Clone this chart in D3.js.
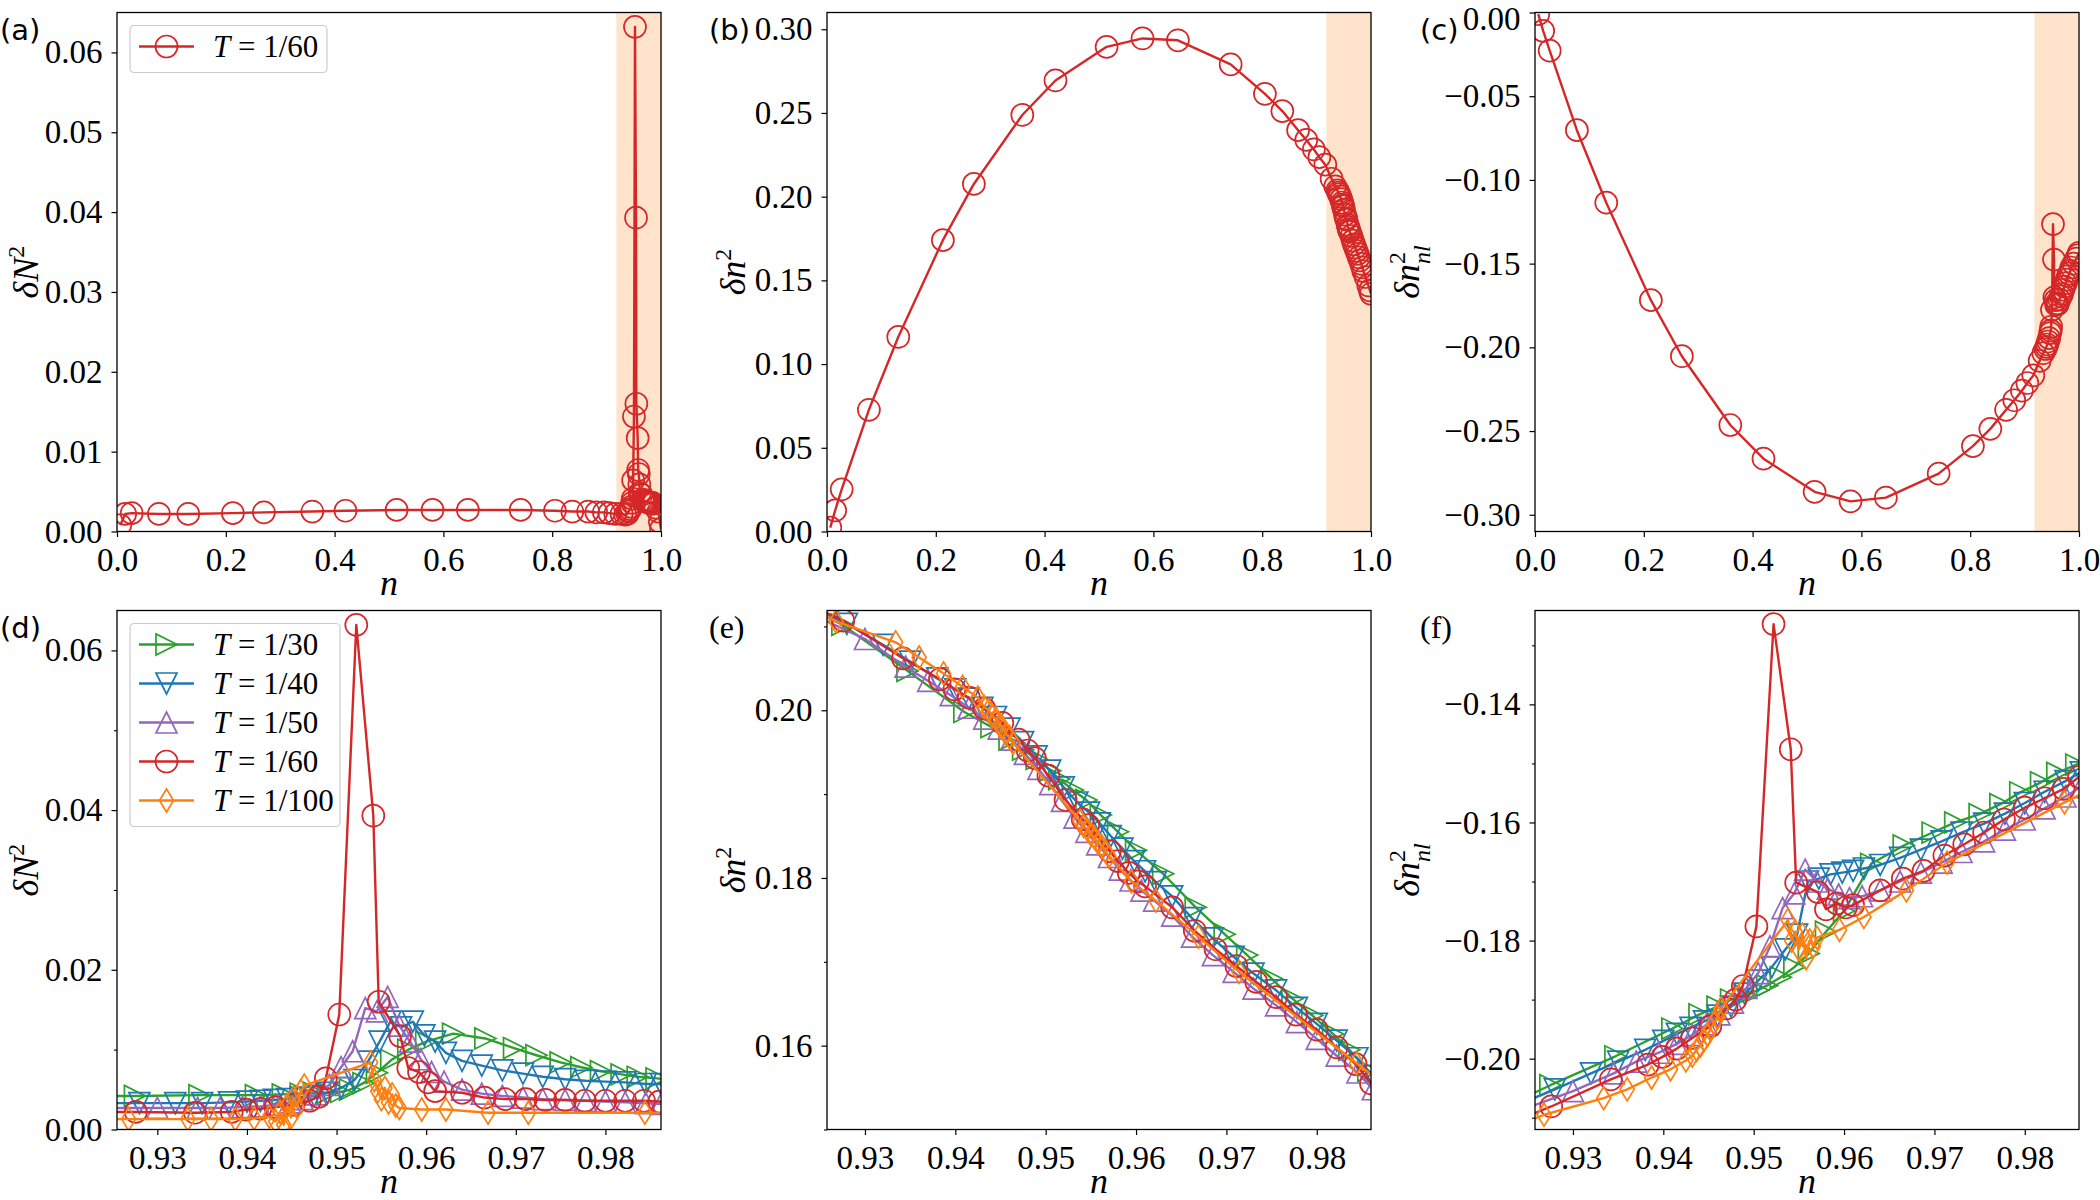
<!DOCTYPE html>
<html>
<head>
<meta charset="utf-8">
<script src="https://cdn.jsdelivr.net/npm/d3@7"></script>
<style>
  body { margin: 0; background: #fff; }
</style>
</head>
<body>
<script>
// ---------- T = 1/60 over the whole filling range (top row), n < 0.92 ----------
const nWide   = [0.006, 0.015, 0.027, 0.077, 0.131, 0.213, 0.270, 0.359, 0.420, 0.514, 0.580, 0.645, 0.742, 0.805, 0.837, 0.866, 0.881, 0.895, 0.905, 0.916];
const dN2Wide = [0.0008, 0.0022, 0.0023, 0.0022, 0.0022, 0.0023, 0.0024, 0.0025, 0.0026, 0.0027, 0.0027, 0.0027, 0.0027, 0.0026, 0.0025, 0.0025, 0.0024, 0.0024, 0.0023, 0.0022];
const dn2Wide = [0.0023, 0.0126, 0.0252, 0.0727, 0.1162, 0.1740, 0.2076, 0.2488, 0.2694, 0.2895, 0.2945, 0.2934, 0.2790, 0.2614, 0.2511, 0.2397, 0.2339, 0.2282, 0.2236, 0.2191];
const dnlWide = [-0.0010, -0.0110, -0.0228, -0.0703, -0.1136, -0.1718, -0.2053, -0.2464, -0.2665, -0.2863, -0.2920, -0.2898, -0.2754, -0.2590, -0.2487, -0.2373, -0.2316, -0.2259, -0.2213, -0.2168];
// points past the zoomed window, up to half filling
const nTail   = [0.990, 0.995, 0.998, 1.000];
const dN2Tail = [0.0030, 0.0025, 0.0012, 0.0003];
const dn2Tail = [0.152, 0.147, 0.144, 0.142];
const dnlTail = [-0.150, -0.147, -0.145, -0.1435];

// ---------- zoomed window (bottom row) ----------
// T = 1/30
const n30    = [0.9220, 0.9275, 0.9347, 0.9410, 0.9440, 0.9460, 0.9475, 0.9490, 0.9505, 0.9515, 0.9530, 0.9545, 0.9561, 0.9580, 0.9600, 0.9630, 0.9666, 0.9698, 0.9723, 0.9750, 0.9773, 0.9795, 0.9818, 0.9836, 0.9857, 0.9890];
const dN2_30 = [0.0042, 0.0042, 0.0043, 0.0043, 0.0044, 0.0045, 0.0046, 0.0046, 0.0047, 0.0050, 0.0058, 0.0071, 0.0087, 0.0100, 0.0110, 0.0120, 0.0114, 0.0102, 0.0093, 0.0084, 0.0078, 0.0073, 0.0069, 0.0066, 0.0064, 0.0061];
const dn2_30 = [0.2130, 0.2102, 0.2047, 0.1998, 0.1980, 0.1965, 0.1953, 0.1942, 0.1928, 0.1918, 0.1905, 0.1893, 0.1875, 0.1855, 0.1833, 0.1805, 0.1765, 0.1733, 0.1708, 0.1680, 0.1656, 0.1636, 0.1614, 0.1595, 0.1570, 0.1538];
const dnl_30 = [-0.2085, -0.2045, -0.1996, -0.1949, -0.1925, -0.1912, -0.1900, -0.1892, -0.1884, -0.1876, -0.1862, -0.1845, -0.1822, -0.1785, -0.1750, -0.1670, -0.1639, -0.1617, -0.1600, -0.1586, -0.1569, -0.1549, -0.1532, -0.1516, -0.1502, -0.1478];
// T = 1/40
const n40    = [0.9220, 0.9280, 0.9320, 0.9350, 0.9380, 0.9400, 0.9415, 0.9430, 0.9445, 0.9460, 0.9475, 0.9490, 0.9505, 0.9520, 0.9535, 0.9548, 0.9560, 0.9572, 0.9585, 0.9598, 0.9610, 0.9622, 0.9640, 0.9662, 0.9685, 0.9708, 0.9730, 0.9755, 0.9778, 0.9800, 0.9822, 0.9845, 0.9862, 0.9890];
const dN2_40 = [0.0033, 0.0033, 0.0033, 0.0033, 0.0034, 0.0035, 0.0036, 0.0037, 0.0038, 0.0040, 0.0042, 0.0046, 0.0052, 0.0062, 0.0085, 0.0110, 0.0135, 0.0128, 0.0135, 0.0118, 0.0110, 0.0096, 0.0086, 0.0080, 0.0074, 0.0070, 0.0066, 0.0063, 0.0061, 0.0060, 0.0059, 0.0057, 0.0057, 0.0056];
const dn2_40 = [0.2133, 0.2103, 0.2078, 0.2058, 0.2038, 0.2025, 0.2014, 0.2003, 0.1992, 0.1978, 0.1962, 0.1945, 0.1928, 0.1908, 0.1890, 0.1878, 0.1865, 0.1850, 0.1835, 0.1820, 0.1808, 0.1795, 0.1778, 0.1752, 0.1728, 0.1706, 0.1686, 0.1666, 0.1645, 0.1626, 0.1606, 0.1585, 0.1564, 0.1532];
const dnl_40 = [-0.2090, -0.2052, -0.2025, -0.2005, -0.1985, -0.1970, -0.1958, -0.1948, -0.1937, -0.1927, -0.1912, -0.1890, -0.1868, -0.1845, -0.1815, -0.1790, -0.1700, -0.1695, -0.1688, -0.1685, -0.1682, -0.1678, -0.1672, -0.1660, -0.1646, -0.1632, -0.1617, -0.1602, -0.1585, -0.1567, -0.1548, -0.1530, -0.1515, -0.1490];
// T = 1/50
const n50    = [0.9220, 0.9300, 0.9345, 0.9370, 0.9395, 0.9415, 0.9432, 0.9448, 0.9462, 0.9477, 0.9492, 0.9505, 0.9518, 0.9532, 0.9545, 0.9557, 0.9570, 0.9582, 0.9594, 0.9606, 0.9620, 0.9640, 0.9662, 0.9685, 0.9708, 0.9730, 0.9755, 0.9778, 0.9800, 0.9822, 0.9845, 0.9862, 0.9890];
const dN2_50 = [0.0027, 0.0027, 0.0027, 0.0027, 0.0028, 0.0029, 0.0031, 0.0034, 0.0038, 0.0044, 0.0056, 0.0078, 0.0098, 0.0152, 0.0148, 0.0166, 0.0130, 0.0110, 0.0088, 0.0072, 0.0060, 0.0050, 0.0045, 0.0042, 0.0040, 0.0038, 0.0037, 0.0036, 0.0035, 0.0034, 0.0033, 0.0032, 0.0031];
const dn2_50 = [0.2125, 0.2085, 0.2052, 0.2035, 0.2018, 0.2003, 0.1990, 0.1978, 0.1965, 0.1948, 0.1930, 0.1912, 0.1892, 0.1872, 0.1855, 0.1840, 0.1825, 0.1810, 0.1797, 0.1785, 0.1773, 0.1755, 0.1730, 0.1708, 0.1688, 0.1668, 0.1648, 0.1628, 0.1608, 0.1588, 0.1568, 0.1548, 0.1518];
const dnl_50 = [-0.2100, -0.2055, -0.2025, -0.2005, -0.1990, -0.1975, -0.1960, -0.1942, -0.1925, -0.1905, -0.1880, -0.1855, -0.1810, -0.1745, -0.1720, -0.1680, -0.1700, -0.1712, -0.1722, -0.1728, -0.1725, -0.1715, -0.1700, -0.1685, -0.1668, -0.1650, -0.1632, -0.1612, -0.1595, -0.1576, -0.1556, -0.1540, -0.1515];
// T = 1/60
const n60    = [0.9220, 0.9276, 0.9342, 0.9383, 0.9399, 0.9415, 0.9432, 0.9452, 0.9470, 0.9480, 0.9488, 0.9503, 0.9522, 0.9541, 0.9547, 0.9571, 0.9580, 0.9592, 0.9602, 0.9610, 0.9640, 0.9665, 0.9688, 0.9711, 0.9733, 0.9755, 0.9777, 0.9800, 0.9822, 0.9843, 0.9860, 0.9890];
const dN2_60 = [0.0022, 0.0022, 0.0021, 0.0022, 0.0025, 0.0026, 0.0028, 0.0031, 0.0036, 0.0041, 0.0064, 0.0144, 0.0632, 0.0393, 0.0160, 0.0117, 0.0077, 0.0072, 0.0059, 0.0048, 0.0046, 0.0040, 0.0038, 0.0038, 0.0037, 0.0037, 0.0036, 0.0036, 0.0036, 0.0036, 0.0035, 0.0035];
const dn2_60 = [0.2135, 0.2107, 0.2062, 0.2037, 0.2025, 0.2015, 0.2002, 0.1985, 0.1965, 0.1952, 0.1943, 0.1922, 0.1893, 0.1870, 0.1863, 0.1832, 0.1820, 0.1806, 0.1796, 0.1790, 0.1765, 0.1737, 0.1715, 0.1695, 0.1676, 0.1658, 0.1637, 0.1619, 0.1598, 0.1578, 0.1555, 0.1525];
const dnl_60 = [-0.2115, -0.2081, -0.2035, -0.2010, -0.1997, -0.1983, -0.1965, -0.1945, -0.1915, -0.1900, -0.1877, -0.1776, -0.1264, -0.1476, -0.1702, -0.1718, -0.1747, -0.1737, -0.1744, -0.1740, -0.1715, -0.1695, -0.1682, -0.1656, -0.1637, -0.1617, -0.1595, -0.1575, -0.1559, -0.1543, -0.1523, -0.1500];
// T = 1/100
const n100    = [0.9220, 0.9268, 0.9334, 0.9360, 0.9387, 0.9408, 0.9425, 0.9432, 0.9437, 0.9441, 0.9445, 0.9449, 0.9452, 0.9456, 0.9460, 0.9464, 0.9538, 0.9542, 0.9546, 0.9550, 0.9554, 0.9558, 0.9562, 0.9566, 0.9570, 0.9595, 0.9622, 0.9669, 0.9714, 0.9844, 0.9890];
const dN2_100 = [0.0013, 0.0013, 0.0013, 0.0013, 0.0013, 0.0014, 0.0016, 0.0010, 0.0022, 0.0006, 0.0030, 0.0015, 0.0040, 0.0028, 0.0048, 0.0055, 0.0084, 0.0062, 0.0048, 0.0038, 0.0052, 0.0034, 0.0044, 0.0030, 0.0027, 0.0025, 0.0025, 0.0021, 0.0021, 0.0021, 0.0020];
const dn2_100 = [0.2135, 0.2106, 0.2081, 0.2063, 0.2044, 0.2028, 0.2015, 0.2004, 0.2000, 0.1993, 0.1990, 0.1982, 0.1980, 0.1972, 0.1968, 0.1961, 0.1868, 0.1862, 0.1858, 0.1852, 0.1848, 0.1842, 0.1838, 0.1832, 0.1826, 0.1796, 0.1773, 0.1730, 0.1688, 0.1579, 0.1540];
const dnl_100 = [-0.2125, -0.2095, -0.2067, -0.2052, -0.2032, -0.2018, -0.2003, -0.1995, -0.1985, -0.1978, -0.1968, -0.1960, -0.1950, -0.1940, -0.1930, -0.1915, -0.1765, -0.1800, -0.1785, -0.1815, -0.1790, -0.1830, -0.1800, -0.1810, -0.1795, -0.1782, -0.1760, -0.1715, -0.1668, -0.1566, -0.1530];

// ---------- ticks ----------
const xTicksWide = [0, 0.2, 0.4, 0.6, 0.8, 1.0];
const xTicksZoom = [0.93, 0.94, 0.95, 0.96, 0.97, 0.98];
const yTicksA = [0, 0.01, 0.02, 0.03, 0.04, 0.05, 0.06];
const yTicksB = [0, 0.05, 0.10, 0.15, 0.20, 0.25, 0.30];
const yTicksC = [0, -0.05, -0.10, -0.15, -0.20, -0.25, -0.30];
const yTicksD = [0, 0.02, 0.04, 0.06];
const yMinorD = [0.01, 0.03, 0.05];
const yTicksE = [0.16, 0.18, 0.20];
const yMinorE = [0.15, 0.17, 0.19, 0.21];
const yTicksF = [-0.20, -0.18, -0.16, -0.14];
const yMinorF = [-0.21, -0.19, -0.17, -0.15, -0.13];

// ---------- series tables ----------
const inner = arr => arr.slice(1, -1); // drop the helper points outside the zoom window
const top60 = {
  label: '1/60', color: '#d62728', shape: 'circle',
  n: nWide.concat(inner(n60), nTail),
  v: [dN2Wide.concat(inner(dN2_60), dN2Tail), dn2Wide.concat(inner(dn2_60), dn2Tail), dnlWide.concat(inner(dnl_60), dnlTail)]
};
const zoomSeries = [
  { label: '1/30', color: '#2ca02c', shape: 'right', n: n30, v: [dN2_30, dn2_30, dnl_30] },
  { label: '1/40', color: '#1f77b4', shape: 'down', n: n40, v: [dN2_40, dn2_40, dnl_40] },
  { label: '1/50', color: '#9467bd', shape: 'up', n: n50, v: [dN2_50, dn2_50, dnl_50] },
  { label: '1/60', color: '#d62728', shape: 'circle', n: n60, v: [dN2_60, dn2_60, dnl_60] },
  { label: '1/100', color: '#ff7f0e', shape: 'diamond', n: n100, v: [dN2_100, dn2_100, dnl_100] }
];

const sans = "'DejaVu Sans', sans-serif";
const serif = "'Liberation Serif', serif";

const panels = [
  { col: 0, row: 0, tag: '(a)', tagFont: sans, idx: 0, xd: [0, 1], yd: [0, 0.065], xt: xTicksWide, xf: '.1f', yt: yTicksA, ym: [], yf: '.2f', shade: true, series: [top60], legend: true },
  { col: 1, row: 0, tag: '(b)', tagFont: sans, idx: 1, xd: [0, 1], yd: [0, 0.31], xt: xTicksWide, xf: '.1f', yt: yTicksB, ym: [], yf: '.2f', shade: true, series: [top60] },
  { col: 2, row: 0, tag: '(c)', tagFont: sans, idx: 2, xd: [0, 1], yd: [-0.31, 0], xt: xTicksWide, xf: '.1f', yt: yTicksC, ym: [], yf: '.2f', shade: true, series: [top60] },
  { col: 0, row: 1, tag: '(d)', tagFont: sans, idx: 0, xd: [0.9255, 0.9862], yd: [0, 0.065], xt: xTicksZoom, xf: '.2f', yt: yTicksD, ym: yMinorD, yf: '.2f', series: zoomSeries, legend: true },
  { col: 1, row: 1, tag: '(e)', tagFont: serif, idx: 1, xd: [0.9258, 0.9860], yd: [0.15, 0.2119], xt: xTicksZoom, xf: '.2f', yt: yTicksE, ym: yMinorE, yf: '.2f', series: zoomSeries },
  { col: 2, row: 1, tag: '(f)', tagFont: serif, idx: 2, xd: [0.9258, 0.9860], yd: [-0.212, -0.1241], xt: xTicksZoom, xf: '.2f', yt: yTicksF, ym: yMinorF, yf: '.2f', series: zoomSeries }
];

// ---------- layout ----------
const W = 2100, H = 1200;
const colX = [117, 827, 1535];
const rowY = [12.5, 610.5];
const pw = 544, ph = 519;
const labelX = [38, 745, 1419]; // baseline of the rotated y labels

const svg = d3.select('body').append('svg')
  .attr('width', W).attr('height', H).style('display', 'block');
const defs = svg.append('defs');

function markerD(shape) {
  switch (shape) {
    case 'circle': return 'M11,0A11,11 0 1,1 -11,0A11,11 0 1,1 11,0Z';
    case 'up': return 'M0,-10.5L10.5,10.5L-10.5,10.5Z';
    case 'down': return 'M0,10.5L10.5,-10.5L-10.5,-10.5Z';
    case 'right': return 'M10.5,0L-10.5,10.5L-10.5,-10.5Z';
    default: return 'M0,-11.5L7,0L0,11.5L-7,0Z'; // thin diamond
  }
}

function yLabel(g, kind, bx, cy) {
  const t = g.append('text')
    .attr('transform', `translate(${bx},${cy}) rotate(-90)`)
    .attr('text-anchor', 'middle')
    .style('font-family', serif).style('font-size', '36px');
  t.append('tspan').style('font-style', 'italic').text(kind === 'N' ? 'δN' : 'δn');
  t.append('tspan').style('font-size', '24px').attr('dy', -14).text('2');
  if (kind === 'nl') {
    t.append('tspan').style('font-size', '24px').style('font-style', 'italic')
      .attr('dx', -12).attr('dy', 25).text('nl');
  }
}

panels.forEach((p, i) => {
  const ox = colX[p.col], oy = rowY[p.row];
  const g = svg.append('g').attr('transform', `translate(${ox},${oy})`);
  const x = d3.scaleLinear().domain(p.xd).range([0, pw]);
  const y = d3.scaleLinear().domain(p.yd).range([ph, 0]);

  defs.append('clipPath').attr('id', 'clip' + i)
    .append('rect').attr('width', pw).attr('height', ph);

  // shaded window that is magnified in the bottom row
  if (p.shade) {
    g.append('rect')
      .attr('x', x(0.918)).attr('y', 0)
      .attr('width', x(1) - x(0.918)).attr('height', ph)
      .attr('fill', '#ffe3cb');
  }

  const plot = g.append('g').attr('clip-path', `url(#clip${i})`);
  const line = d3.line().x(d => x(d[0])).y(d => y(d[1]));
  p.series.forEach(s => {
    const pts = s.n.map((n, k) => [n, s.v[p.idx][k]]);
    plot.append('path').datum(pts)
      .attr('d', line)
      .attr('fill', 'none').attr('stroke', s.color)
      .attr('stroke-width', 2.4).attr('stroke-linejoin', 'round');
    plot.selectAll(null).data(pts).join('path')
      .attr('transform', d => `translate(${x(d[0])},${y(d[1])})`)
      .attr('d', markerD(s.shape))
      .attr('fill', 'none').attr('stroke', s.color).attr('stroke-width', 1.7);
  });

  // frame
  g.append('rect').attr('width', pw).attr('height', ph)
    .attr('fill', 'none').attr('stroke', '#000').attr('stroke-width', 1.3);

  // axes
  const gx = g.append('g').attr('transform', `translate(0,${ph})`)
    .call(d3.axisBottom(x).tickValues(p.xt).tickFormat(d3.format(p.xf)).tickSize(5.5).tickPadding(11));
  const gy = g.append('g')
    .call(d3.axisLeft(y).tickValues(p.yt).tickFormat(d3.format(p.yf)).tickSize(5.5).tickPadding(9));
  if (p.ym.length) {
    const gm = g.append('g')
      .call(d3.axisLeft(y).tickValues(p.ym).tickFormat('').tickSize(3));
    gm.select('.domain').remove();
    gm.selectAll('line').attr('stroke-width', 1.1);
  }
  [gx, gy].forEach(a => {
    a.select('.domain').remove();
    a.attr('font-family', null).attr('font-size', null);
    a.selectAll('line').attr('stroke-width', 1.2);
    a.selectAll('text')
      .style('font-family', serif).style('font-size', '33px').attr('fill', '#000');
  });
  // a label sitting on the very top of the figure is nudged down to stay inside
  gy.selectAll('.tick text')
    .attr('dy', d => (oy + y(d) < 20 ? '0.5em' : '0.32em'));

  // axis labels
  g.append('text')
    .attr('x', pw / 2).attr('y', ph + 63)
    .attr('text-anchor', 'middle')
    .style('font-family', serif).style('font-style', 'italic').style('font-size', '36px')
    .text('n');
  yLabel(svg, ['N', 'n', 'nl'][p.idx], labelX[p.col], oy + ph / 2);

  // panel tag
  svg.append('text')
    .attr('x', [0, 709, 1420][p.col]).attr('y', oy + 27)
    .style('font-family', p.tagFont).style('font-size', p.tagFont === sans ? '29px' : '32px')
    .text(p.tag);

  // legend
  if (p.legend) {
    const items = p.series;
    const lg = g.append('g').attr('transform', 'translate(13,13)');
    lg.append('rect')
      .attr('width', items.length > 1 ? 210 : 197)
      .attr('height', items.length > 1 ? 203 : 47)
      .attr('rx', 4)
      .attr('fill', '#fff').attr('fill-opacity', 0.8)
      .attr('stroke', '#cccccc').attr('stroke-width', 1.2);
    items.forEach((s, k) => {
      const cy = 21 + k * 39;
      lg.append('line').attr('x1', 9).attr('x2', 64).attr('y1', cy).attr('y2', cy)
        .attr('stroke', s.color).attr('stroke-width', 2.4);
      lg.append('path').attr('transform', `translate(36.5,${cy})`)
        .attr('d', markerD(s.shape))
        .attr('fill', 'none').attr('stroke', s.color).attr('stroke-width', 1.7);
      const t = lg.append('text').attr('x', 83).attr('y', cy + 10)
        .style('font-family', serif).style('font-size', '31px');
      t.append('tspan').style('font-style', 'italic').text('T');
      t.append('tspan').text(' = ' + s.label);
    });
  }
});
</script>
</body>
</html>
